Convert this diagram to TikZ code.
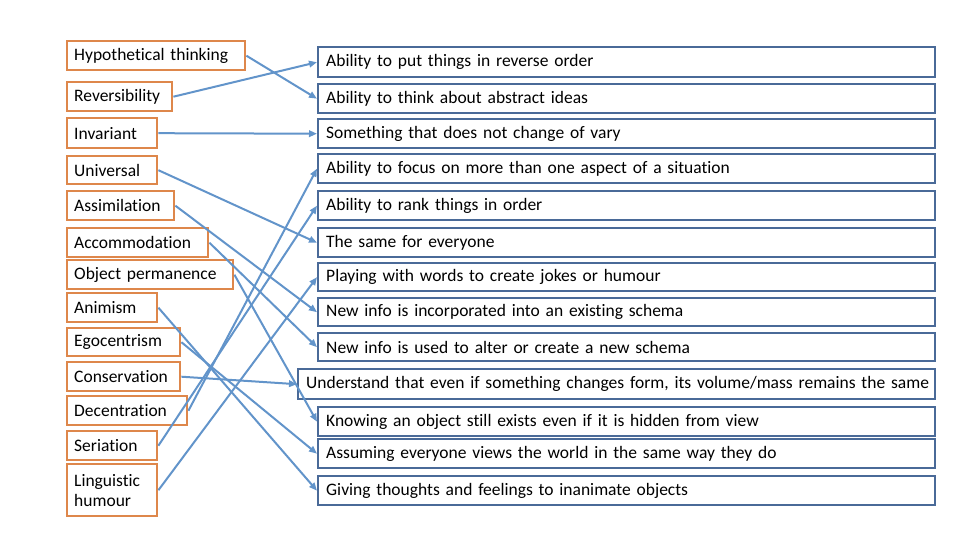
\documentclass[tikz,border=0pt]{standalone}
\usepackage{fontspec}
\setmainfont{Carlito}[Ligatures=CommonOff]
\usetikzlibrary{arrows.meta}
\definecolor{lborder}{RGB}{222,135,75}
\definecolor{rborder}{RGB}{74,106,152}
\definecolor{arr}{RGB}{98,148,202}
\begin{document}
\begin{tikzpicture}[x=1pt,y=-1pt,
  base/.style={anchor=north west,inner ysep=0pt,align=left,fill=white,font=\fontsize{17.5}{20}\selectfont},
  lbox/.style={base,draw=lborder,line width=2.4pt,inner xsep=7pt},
  rbox/.style={base,draw=rborder,line width=2.4pt,inner xsep=8pt},
  link/.style={draw=arr,line width=2pt,-{Triangle[length=8pt,width=6.5pt]}}]
\useasboundingbox (0,0) rectangle (960,540);
% left column
\node[lbox,text width=164pt,minimum height=29pt] (L1) at (66,40) {Hypothetical thinking};
\node[lbox,text width=91pt,minimum height=29pt] (L2) at (66,81) {Reversibility};
\node[lbox,text width=76pt,minimum height=30pt] (L3) at (66,117) {Invariant};
\node[lbox,text width=76pt,minimum height=28pt] (L4) at (66,155) {Universal};
\node[lbox,text width=93pt,minimum height=29pt] (L5) at (66,190) {Assimilation};
\node[lbox,text width=127pt,minimum height=29pt] (L6) at (66,227) {Accommodation};
\node[lbox,text width=152pt,minimum height=29pt] (L7) at (66,259) {Object permanence};
\node[lbox,text width=76pt,minimum height=29pt] (L8) at (66,292) {Animism};
\node[lbox,text width=99pt,minimum height=28pt] (L9) at (66,327) {Egocentrism};
\node[lbox,text width=99pt,minimum height=29pt] (L10) at (66,361) {Conservation};
\node[lbox,text width=106pt,minimum height=29pt] (L11) at (66,395) {Decentration};
\node[lbox,text width=76pt,minimum height=29pt] (L12) at (66,430) {Seriation};
\node[lbox,text width=76pt,minimum height=52pt] (L13) at (66,463) {Linguistic\\humour};
% right column
\node[rbox,text width=601pt,minimum height=30pt] (R1) at (317,46) {Ability to put things in reverse order};
\node[rbox,text width=601pt,minimum height=29pt] (R2) at (317,83) {Ability to think about abstract ideas};
\node[rbox,text width=601pt,minimum height=29pt] (R3) at (317,118) {Something that does not change of vary};
\node[rbox,text width=601pt,minimum height=29pt] (R4) at (317,153) {Ability to focus on more than one aspect of a situation};
\node[rbox,text width=601pt,minimum height=29pt] (R5) at (317,190) {Ability to rank things in order};
\node[rbox,text width=601pt,minimum height=29pt] (R6) at (317,227) {The same for everyone};
\node[rbox,text width=601pt,minimum height=28pt] (R7) at (317,262) {Playing with words to create jokes or humour};
\node[rbox,text width=601pt,minimum height=28pt] (R8) at (317,297) {New info is incorporated into an existing schema};
\node[rbox,text width=601pt,minimum height=28pt] (R9) at (317,332) {New info is used to alter or create a new schema};
\node[rbox,text width=621pt,minimum height=30pt] (R10) at (297,368) {\mbox{Understand that even if something changes form, its volume/mass remains the same}};
\node[rbox,text width=601pt,minimum height=29pt] (R11) at (317,406) {Knowing an object still exists even if it is hidden from view};
\node[rbox,text width=601pt,minimum height=29pt] (R12) at (317,438) {Assuming everyone views the world in the same way they do};
\node[rbox,text width=601pt,minimum height=29pt] (R13) at (317,475) {Giving thoughts and feelings to inanimate objects};
% connectors
\draw[link] (L1.east) -- (R2.west);
\draw[link] (L2.east) -- (R1.west);
\draw[link] (L3.east) -- (R3.west);
\draw[link] (L4.east) -- (R6.west);
\draw[link] (L5.east) -- (R8.west);
\draw[link] (L6.east) -- (R9.west);
\draw[link] (L7.east) -- (R11.west);
\draw[link] (L8.east) -- (R13.west);
\draw[link] (L9.east) -- (R12.west);
\draw[link] (L10.east) -- (R10.west);
\draw[link] (L11.east) -- (R4.west);
\draw[link] (L12.east) -- (R5.west);
\draw[link] (L13.east) -- (R7.west);
\end{tikzpicture}
\end{document}
